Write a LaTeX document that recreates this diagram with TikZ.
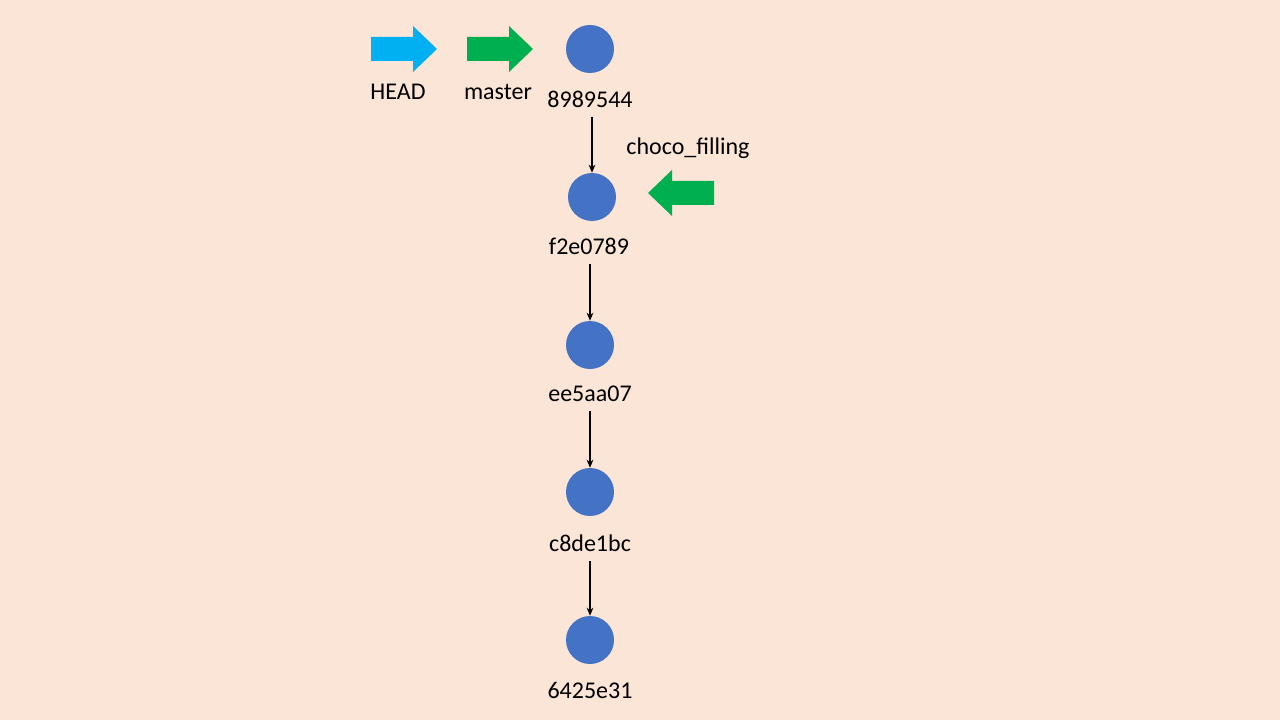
\documentclass[tikz,border=0pt]{standalone}
\usepackage{fontspec}
\setmainfont{Carlito}
\usetikzlibrary{arrows.meta}
\definecolor{bg}{RGB}{251,229,214}
\definecolor{commit}{RGB}{68,114,196}
\definecolor{headblue}{RGB}{0,176,240}
\definecolor{branchgreen}{RGB}{0,176,80}
\tikzset{
  commitdot/.style={circle, fill=commit, minimum size=48*0.75pt, inner sep=0pt},
  lbl/.style={font=\fontsize{18}{20}\selectfont, text=black, inner sep=0pt},
  parent/.style={draw=black, line width=1.1pt, -{Stealth[length=6pt,width=5pt]}},
}
\begin{document}
\begin{tikzpicture}[x=0.75pt,y=-0.75pt]
\fill[bg] (0,0) rectangle (1280,720);
\useasboundingbox (0,0) rectangle (1280,720);
% block arrows
\fill[headblue] (371,37) -- (413,37) -- (413,26) -- (437,49) -- (413,72) -- (413,61) -- (371,61) -- cycle;
\fill[branchgreen] (467,37) -- (509,37) -- (509,26) -- (533,49) -- (509,72) -- (509,61) -- (467,61) -- cycle;
\fill[branchgreen] (714,181) -- (672,181) -- (672,170) -- (648,193) -- (672,216) -- (672,205) -- (714,205) -- cycle;
\node[lbl] (head) at (398,92) {HEAD};
\node[lbl] (master) at (498,92) {master};
\node[lbl] (choco) at (688,148) {choco\_filling};
% commits
\node[commitdot] (c1) at (590,49) {};
\node[commitdot] (c2) at (592,197) {};
\node[commitdot] (c3) at (590,345) {};
\node[commitdot] (c4) at (590,492) {};
\node[commitdot] (c5) at (590,640) {};
\node[lbl] (l1) at (590,99) {8989544};
\node[lbl] (l2) at (589,246) {f2e0789};
\node[lbl] (l3) at (590,394) {ee5aa07};
\node[lbl] (l4) at (590,543) {c8de1bc};
\node[lbl] (l5) at (590,690) {6425e31};
\draw[parent] ([yshift=-7pt]l1.south -| c2.north) -- (c2.north);
\draw[parent] ([yshift=-7pt]l2.south -| c3.north) -- (c3.north);
\draw[parent] ([yshift=-7pt]l3.south -| c4.north) -- (c4.north);
\draw[parent] ([yshift=-7pt]l4.south -| c5.north) -- (c5.north);
\end{tikzpicture}
\end{document}
